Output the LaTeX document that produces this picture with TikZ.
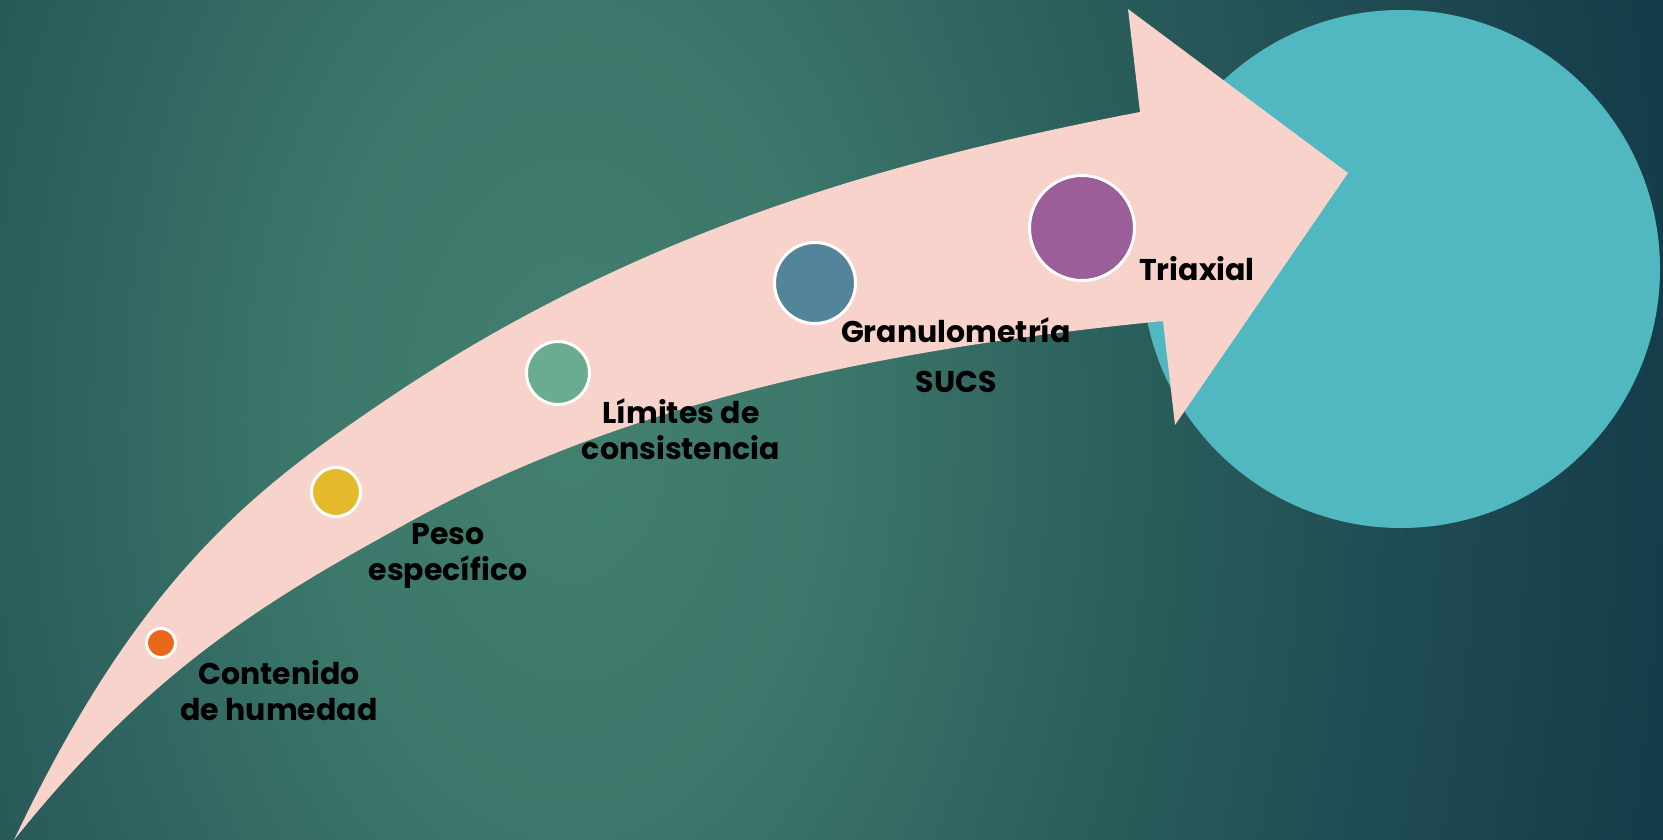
\documentclass[tikz,border=0pt]{standalone}
\usepackage{fontspec}
\setmainfont{Poppins}
\definecolor{bgC0}{HTML}{42806F}
\definecolor{bgC1}{HTML}{3C776B}
\definecolor{bgC2}{HTML}{2A5D5B}
\definecolor{bgC3}{HTML}{1F4B53}
\definecolor{bgC4}{HTML}{143B49}
\definecolor{bgC5}{HTML}{113747}
\definecolor{arrowPink}{HTML}{F7D3CB}
\definecolor{bigTeal}{HTML}{51B8C1}
\definecolor{dotOrange}{HTML}{E9661A}
\definecolor{dotYellow}{HTML}{E4B92B}
\definecolor{dotGreen}{HTML}{6AAC8F}
\definecolor{dotBlue}{HTML}{548499}
\definecolor{dotPurple}{HTML}{9C5E98}
% 25bp corresponds to the rim of the shaded path
\pgfdeclareradialshading{backdrop}{\pgfpoint{0bp}{0bp}}{%
  color(0bp)=(bgC0); color(5bp)=(bgC1); color(11bp)=(bgC2);
  color(16.3bp)=(bgC3); color(21.5bp)=(bgC4); color(25bp)=(bgC5);
  color(50bp)=(bgC5)}
\begin{document}
\begin{tikzpicture}[x=1pt,y=-1pt,
  stepdot/.style={circle, draw=white, line width=3pt, inner sep=0pt},
  steplabel/.style={font=\fontsize{30}{36}\selectfont\bfseries, text=black,
    inner sep=0pt, align=center, anchor=base}]
\useasboundingbox (0,0) rectangle (1663,840);
% background
\begin{scope}
  \clip (0,0) rectangle (1663,840);
  \fill[bgC5] (0,0) rectangle (1663,840);
  \shade[shading=backdrop] (570,420) ellipse[x radius=1300pt, y radius=2080pt];
\end{scope}
% large disc behind the arrow head
\fill[bigTeal] (1401,269) circle[radius=259pt];
% curved arrow
\fill[arrowPink]
  (14,840) .. controls (139,577) and (253,490) .. (383,402)
  .. controls (633,232) and (890,160) .. (1140,112)
  -- (1128,9) -- (1348,173) -- (1175,425) -- (1163,321)
  .. controls (913,346) and (643,393.5) .. (413,520)
  .. controls (273,597) and (154,665) .. (14,840)
  -- cycle;
% milestones
\node[stepdot, fill=dotOrange, minimum size=29pt] (d1) at (161,643) {};
\node[stepdot, fill=dotYellow, minimum size=49pt] (d2) at (336,492) {};
\node[stepdot, fill=dotGreen,  minimum size=63pt] (d3) at (558,373) {};
\node[stepdot, fill=dotBlue,   minimum size=81pt] (d4) at (815,283) {};
\node[stepdot, fill=dotPurple, minimum size=105pt] (d5) at (1082,228) {};
% labels (base anchor sits on the last line)
\node[steplabel] (t1) at (279,720) {Contenido\\de humedad};
\node[steplabel] (t2) at (448,580) {Peso\\específico};
\node[steplabel] (t3) at (681,459) {Límites de\\consistencia};
\node[steplabel] (t4) at (956,342) {Granulometría};
\node[steplabel] (t4b) at (956,392) {SUCS};
\node[steplabel, anchor=base west] (t5) at (1139,280) {Triaxial};
\end{tikzpicture}
\end{document}
